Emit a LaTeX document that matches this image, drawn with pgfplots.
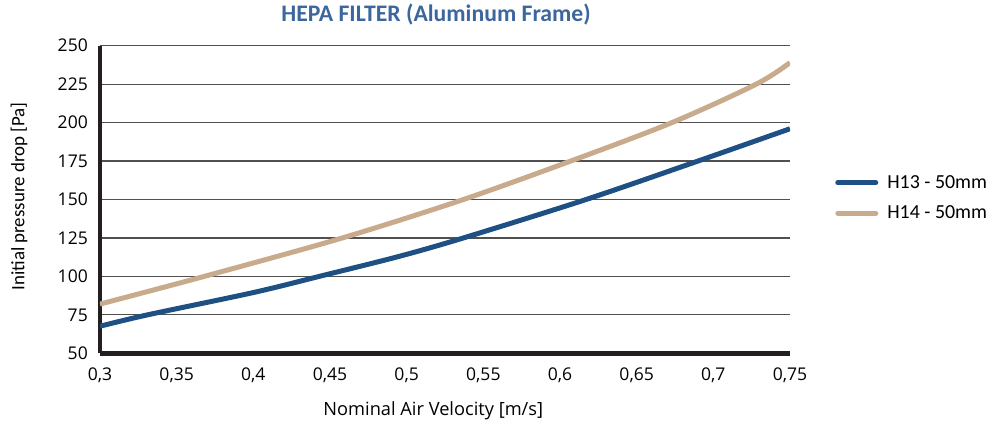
\documentclass[border=0pt]{standalone}
\usepackage{pgfplots}
\pgfplotsset{compat=1.18}
\usepackage{fontspec}
\setmainfont{Carlito}
\newfontfamily\tickfont{Open Sans}

\definecolor{titleblue}{HTML}{3C679D}
\definecolor{hblue}{HTML}{1F5083}
\definecolor{htan}{HTML}{C8AB8C}
\definecolor{axisdark}{HTML}{231F20}
\definecolor{gridgray}{HTML}{505050}

\begin{document}
\begin{tikzpicture}
% page = 996 x 428 px, axis box from (100,45.7) to (790,353.3)
\path[use as bounding box] (-100bp,-74.7bp) rectangle (896bp,353.3bp);
\begin{axis}[
  at={(0,0)}, anchor=south west,
  scale only axis,
  width=690bp, height=307.6bp,
  xmin=0.3, xmax=0.75,
  ymin=50, ymax=250,
  xtick={0.3,0.35,...,0.76},
  ytick={50,75,...,250},
  axis x line=bottom, axis y line=left,
  axis line style={-, line width=4.5bp, color=axisdark},
  major tick length=0pt,
  ymajorgrids,
  major grid style={gridgray, line width=1.2bp},
  /pgf/number format/.cd, use comma, fixed, precision=2, assume math mode=true,
  /pgfplots/.cd,
  tick label style={font=\tickfont\fontsize{17.6}{20}\selectfont, black},
  yticklabel style={inner sep=0pt, xshift=-12bp},
  xticklabel style={inner sep=0pt, yshift=-14bp},
  title={HEPA FILTER (Aluminum Frame)},
  title style={font=\bfseries\fontsize{23.8}{28}\selectfont, color=titleblue,
    at={(axis description cs:0.487,1)}, anchor=center, yshift=25bp},
  xlabel={Nominal Air Velocity [m/s]},
  xlabel style={font=\tickfont\fontsize{18.3}{22}\selectfont,
    at={(axis description cs:0.483,0)}, anchor=center, yshift=-57bp},
  ylabel={Initial pressure drop [Pa]},
  ylabel style={font=\fontsize{19}{22}\selectfont,
    at={(axis description cs:-0.1174,0.51)}, anchor=center},
  legend style={draw=none, fill=none, at={(1.061,0.505)}, anchor=west,
    font=\fontsize{20}{24}\selectfont, row sep=12bp,
    nodes={inner xsep=6bp},
    /tikz/every odd column/.append style={column sep=3bp}},
  legend cell align=left,
  legend image code/.code={\draw[#1, line width=5bp, line cap=round] (0,0) -- (38bp,0);},
  every axis plot/.append style={line width=5bp, smooth},
]
\addplot[hblue] coordinates {
  (0.30,67.6) (0.331,75) (0.40,89.5) (0.443,100) (0.495,113)
  (0.537,125) (0.617,150) (0.690,175) (0.75,196)
};
\addplot[htan] coordinates {
  (0.30,82) (0.368,100) (0.458,125) (0.537,150) (0.607,175)
  (0.673,200) (0.728,225) (0.75,239)
};
\legend{H13 - 50mm, H14 - 50mm}
\end{axis}
\end{tikzpicture}
\end{document}
